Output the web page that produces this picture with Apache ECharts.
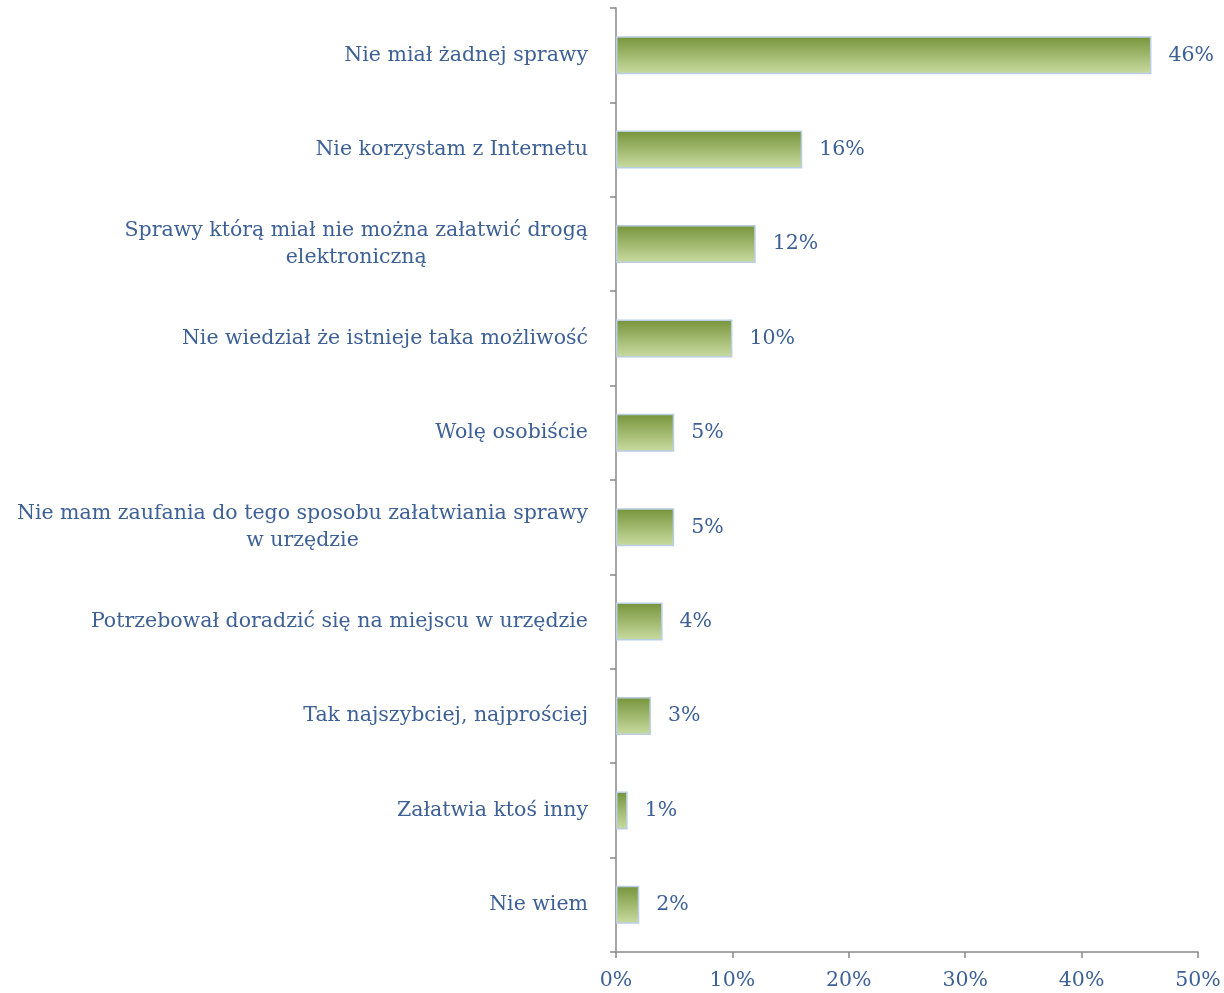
<!DOCTYPE html>
<html>
<head>
<meta charset="utf-8">
<script src="https://cdn.jsdelivr.net/npm/echarts@6/dist/echarts.min.js"></script>
<style>
html, body { margin: 0; padding: 0; background: #fff; }
#chart { width: 1224px; height: 993px; }
</style>
</head>
<body>
<div id="chart"></div>
<script>
var categories = [
    'Nie miał żadnej sprawy',
    'Nie korzystam z Internetu',
    'Sprawy którą miał nie można załatwić drogą\nelektroniczną',
    'Nie wiedział że istnieje taka możliwość',
    'Wolę osobiście',
    'Nie mam zaufania do tego sposobu załatwiania sprawy\nw urzędzie',
    'Potrzebował doradzić się na miejscu w urzędzie',
    'Tak najszybciej, najprościej',
    'Załatwia ktoś inny',
    'Nie wiem'
];
var values = [46, 16, 12, 10, 5, 5, 4, 3, 1, 2];

var textColor = '#3d6096';
var fontName = 'DejaVu Serif';

var myChart = echarts.init(document.getElementById('chart'));

var option = {
    animation: false,
    grid: {
        left: 616,
        right: 26,
        top: 8,
        bottom: 41
    },
    xAxis: {
        type: 'value',
        min: 0,
        max: 50,
        interval: 10,
        axisLine: { show: true, lineStyle: { color: '#888', width: 1.5 } },
        axisTick: { show: true, length: 6, lineStyle: { color: '#888', width: 1.5 } },
        splitLine: { show: false },
        axisLabel: {
            color: textColor,
            fontFamily: fontName,
            fontSize: 20.5,
            margin: 18,
            formatter: '{value}%'
        }
    },
    yAxis: {
        type: 'category',
        data: categories,
        inverse: true,
        axisLine: { show: true, lineStyle: { color: '#888', width: 1.5 } },
        axisTick: { show: true, length: 6, lineStyle: { color: '#888', width: 1.5 } },
        axisLabel: {
            margin: 28,
            formatter: function (v) {
                return v.split('\n').map(function (s) { return '{c|' + s + '}'; }).join('\n');
            },
            rich: {
                c: {
                    align: 'center',
                    color: textColor,
                    fontFamily: fontName,
                    fontSize: 20.5,
                    lineHeight: 27
                }
            }
        }
    },
    series: [{
        type: 'bar',
        data: values,
        barWidth: 38,
        itemStyle: {
            color: new echarts.graphic.LinearGradient(0, 0, 0, 1, [
                { offset: 0, color: '#76943a' },
                { offset: 1, color: '#cadca2' }
            ]),
            borderColor: '#b9cde5',
            borderWidth: 1.5
        },
        label: {
            show: true,
            position: 'right',
            distance: 17,
            color: textColor,
            fontFamily: fontName,
            fontSize: 20.5,
            formatter: '{c}%'
        }
    }]
};

myChart.setOption(option);
</script>
</body>
</html>
